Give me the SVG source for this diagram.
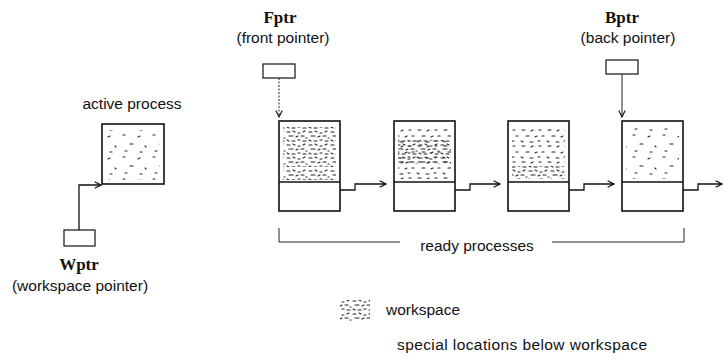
<svg xmlns="http://www.w3.org/2000/svg" width="725" height="361" viewBox="0 0 725 361">
<style>
.lbl{font-family:"Liberation Sans",Arial,sans-serif;font-size:15.5px;fill:#111;}
.ptr{font-family:"Liberation Serif","Times New Roman",serif;font-size:17px;font-weight:bold;fill:#111;}
.box{fill:#fff;stroke:#111;stroke-width:1.6;}
.sbox{fill:#fff;stroke:#111;stroke-width:1.2;}
.ln{fill:none;stroke:#111;stroke-width:1.3;}
.thin{fill:none;stroke:#222;stroke-width:1;}
.dash{fill:none;stroke:#222;stroke-width:1;stroke-dasharray:2 1.5;}
.sp{stroke:#222;stroke-width:1.1;fill:none;stroke-linecap:round;}
</style>
<defs>
<marker id="ah" viewBox="0 0 10 10" refX="9" refY="5" markerWidth="8" markerHeight="8" orient="auto" markerUnits="userSpaceOnUse">
<path d="M1,1 L9,5 L1,9" fill="none" stroke="#111" stroke-width="1.4"/>
</marker>
<pattern id="dense" width="22" height="13" patternUnits="userSpaceOnUse">
<g class="sp">
<path d="M1,2 h3"/><path d="M7,1 l2,1"/><path d="M12,3 h2"/><path d="M17,2 l2,-1"/>
<path d="M3,6 h4"/><path d="M10,7 l2,-1"/><path d="M15,6 h3"/><path d="M20,8 h1"/>
<path d="M1,10 l2,1"/><path d="M6,11 h3"/><path d="M12,10 h2"/><path d="M17,11 l3,0"/>
</g>
</pattern>
<pattern id="mid" width="26" height="16" patternUnits="userSpaceOnUse">
<g class="sp">
<path d="M2,2 h3"/><path d="M11,3 l2,-1"/><path d="M19,2 h2"/>
<path d="M6,8 h3"/><path d="M15,9 l2,-1"/><path d="M22,8 h2"/>
<path d="M1,13 l2,1"/><path d="M10,14 h3"/><path d="M18,13 h2"/>
</g>
</pattern>
<pattern id="sparse" width="30" height="22" patternUnits="userSpaceOnUse">
<g class="sp">
<path d="M3,3 h2"/><path d="M18,5 l2,-1"/><path d="M10,12 h3"/><path d="M25,14 l1,1"/><path d="M5,19 h2"/><path d="M20,20 h2"/>
</g>
</pattern>
</defs>

<g id="connectors">
<path class="ln" d="M79,230 V185 H101" marker-end="url(#ah)"/>
<path class="dash" d="M279,78 V117" marker-end="url(#ah)"/>
<path class="thin" d="M622,74 V117" marker-end="url(#ah)"/>
<path class="ln" d="M340,190 H355 V184 H386" marker-end="url(#ah)"/>
<path class="ln" d="M455,190 H470 V184 H500" marker-end="url(#ah)"/>
<path class="ln" d="M569,190 H584 V184 H614" marker-end="url(#ah)"/>
<path class="ln" d="M683,190 H698 V184 H722" marker-end="url(#ah)"/>
<path class="thin" d="M279,228 V242 H400"/>
<path class="thin" d="M552,242 H684 V228"/>
</g>

<g id="active">
<text class="lbl" x="132" y="109" text-anchor="middle">active process</text>
<rect class="box" x="102" y="124" width="62" height="60"/>
<rect x="106" y="130" width="54" height="50" fill="url(#sparse)"/>
</g>

<g id="wptr">
<rect class="sbox" x="64" y="230" width="31" height="16"/>
<text class="ptr" x="79" y="270" text-anchor="middle">Wptr</text>
<text class="lbl" x="80" y="291" text-anchor="middle">(workspace pointer)</text>
</g>

<g id="fptr">
<text class="ptr" x="280" y="23" text-anchor="middle">Fptr</text>
<text class="lbl" x="283" y="43" text-anchor="middle">(front pointer)</text>
<rect class="sbox" x="263" y="64" width="32" height="14"/>
</g>

<g id="bptr">
<text class="ptr" x="622" y="23" text-anchor="middle">Bptr</text>
<text class="lbl" x="628" y="43" text-anchor="middle">(back pointer)</text>
<rect class="sbox" x="606" y="60" width="32" height="14"/>
</g>

<g id="p1">
<rect class="box" x="279" y="121" width="61" height="90"/>
<rect x="283" y="127" width="53" height="40" fill="url(#dense)"/>
<rect x="283" y="168" width="53" height="12" fill="url(#dense)"/>
<line class="ln" x1="279" y1="182" x2="340" y2="182"/>
</g>

<g id="p2">
<rect class="box" x="394" y="121" width="61" height="90"/>
<rect x="398" y="127" width="53" height="52" fill="url(#mid)"/>
<rect x="398" y="140" width="53" height="24" fill="url(#dense)"/>
<line class="ln" x1="394" y1="182" x2="455" y2="182"/>
</g>

<g id="p3">
<rect class="box" x="508" y="121" width="61" height="90"/>
<rect x="512" y="127" width="53" height="40" fill="url(#mid)"/>
<rect x="512" y="166" width="53" height="13" fill="url(#dense)"/>
<line class="ln" x1="508" y1="182" x2="569" y2="182"/>
</g>

<g id="p4">
<rect class="box" x="622" y="121" width="61" height="90"/>
<rect x="626" y="127" width="53" height="52" fill="url(#sparse)"/>
<line class="ln" x1="622" y1="182" x2="683" y2="182"/>
</g>

<g id="ready">
<text class="lbl" x="477" y="251" text-anchor="middle">ready processes</text>
</g>

<g id="legend">
<rect x="340" y="300" width="30" height="21" fill="url(#dense)"/>
<text class="lbl" x="386" y="315">workspace</text>
<text class="lbl" x="397" y="350" textLength="250" lengthAdjust="spacing">special locations below workspace</text>
</g>
</svg>
